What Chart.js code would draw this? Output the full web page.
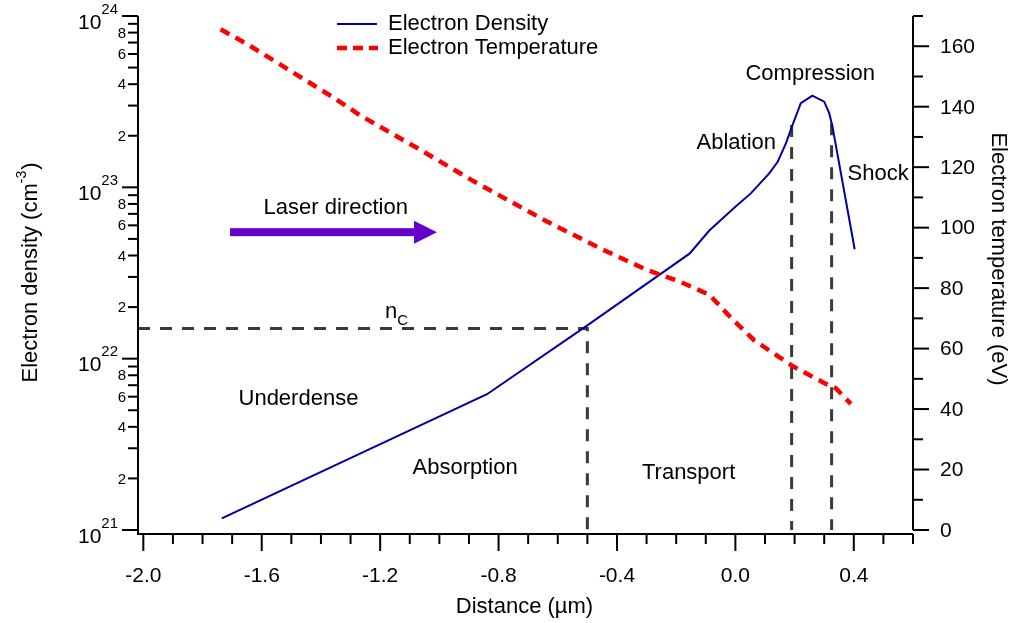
<!DOCTYPE html>
<html>
<head>
<meta charset="utf-8">
<title>Electron density and temperature profile</title>
<script src="https://cdn.jsdelivr.net/npm/chart.js@4.4.1/dist/chart.umd.min.js"></script>
<style>
  html, body { margin: 0; padding: 0; background: #fff; }
  canvas { display: block; }
</style>
</head>
<body>
<canvas id="profileChart" width="1022" height="623"></canvas>
<script>
'use strict'

// blue curve: distance (um) and electron density (cm^-3)
let densityX = [-1.735, -0.839, -0.499, -0.155, -0.088, 0.0, 0.053, 0.115, 0.143, 0.171, 0.193, 0.221, 0.260, 0.300, 0.317, 0.328, 0.403];
let densityY = [1.17e21, 6.2e21, 1.57e22, 4.1e22, 5.6e22, 7.7e22, 9.25e22, 1.21e23, 1.41e23, 1.81e23, 2.31e23, 3.10e23, 3.43e23, 3.16e23, 2.71e23, 2.26e23, 4.35e22];

// red curve: distance (um) and electron temperature (eV)
let tempX = [-1.739, -1.649, -1.357, -1.267, -1.076, -0.885, -0.638, -0.447, -0.301, -0.189, -0.088, -0.014, 0.064, 0.148, 0.199, 0.300, 0.339, 0.390];
let tempY = [165.6, 160.7, 143.0, 137.1, 126.4, 115.4, 102.1, 92.7, 86.1, 82.2, 77.8, 70.1, 62.7, 57.2, 53.9, 48.6, 46.9, 41.7];

// critical density and the region boundaries
let criticalDensity = 1.5e22;
let criticalX = -0.5;
let boundaryX = [0.19, 0.325];
let boundaryTop = [2.31e23, 2.37e23];

// axis ticks
let xMajorTicks = [-2.0, -1.6, -1.2, -0.8, -0.4, 0.0, 0.4];
let xTickLabels = ['-2.0', '-1.6', '-1.2', '-0.8', '-0.4', '0.0', '0.4'];
let densityExponents = [21, 22, 23, 24];
let densityMinorLabels = [2, 4, 6, 8];
let tempTicks = [0, 20, 40, 60, 80, 100, 120, 140, 160];

// region names, x in um and y on the temperature axis (text baseline)
let regionNames = ['Laser direction', 'Underdense', 'Absorption', 'Transport', 'Ablation', 'Compression', 'Shock'];
let regionX = [-1.35, -1.476, -0.913, -0.158, 0.003, 0.253, 0.482];
let regionT = [104.5, 41.4, 18.5, 16.9, 125.9, 148.8, 115.7];

let xMin = -2.018;
let xMax = 0.6;

const FONT = "'Liberation Sans', Arial, sans-serif";

function pairs(xs, ys) {
    return xs.map((x, i) => ({ x: x, y: ys[i] }));
}

function drawLine(c, x1, y1, x2, y2) {
    c.beginPath();
    c.moveTo(x1, y1);
    c.lineTo(x2, y2);
    c.stroke();
}

// axes, ticks, labels and notes are drawn here from the chart scales
const axesPlugin = {
    id: 'profileAxes',
    afterDraw(chart) {
        let c = chart.ctx;
        let area = chart.chartArea;
        let xs = chart.scales.x;
        let yd = chart.scales.yDens;
        let yt = chart.scales.yTemp;
        let axisY = area.bottom + 4;

        c.save();
        c.strokeStyle = '#000';
        c.fillStyle = '#000';
        c.lineWidth = 2;

        drawLine(c, area.left, area.top, area.left, axisY + 1);
        drawLine(c, area.left, axisY, area.right, axisY);
        drawLine(c, area.right, area.top, area.right, area.bottom);

        // bottom axis
        for (let i = -20; i <= 6; i++) {
            let px = xs.getPixelForValue(i / 10);
            let major = Math.abs(i) % 4 === 0;
            drawLine(c, px, axisY, px, axisY + (major ? 17 : 10));
        }
        c.font = '21px ' + FONT;
        c.textAlign = 'center';
        c.textBaseline = 'alphabetic';
        xMajorTicks.forEach((v, i) => {
            c.fillText(xTickLabels[i], xs.getPixelForValue(v), 582);
        });
        c.font = '22px ' + FONT;
        c.fillText('Distance (\u00b5m)', (area.left + area.right) / 2 - 1, 613);

        // left log axis
        densityExponents.forEach(e => {
            let py = yd.getPixelForValue(Math.pow(10, e));
            drawLine(c, area.left - 16, py, area.left, py);
            c.textAlign = 'right';
            c.textBaseline = 'alphabetic';
            c.font = '15px ' + FONT;
            let sup = String(e);
            let supRight = area.left - 20;
            c.fillText(sup, supRight, py - 2.5);
            let w = c.measureText(sup).width;
            c.font = '21px ' + FONT;
            c.fillText('10', supRight - w, py + 12.5);
            if (e < 24) {
                for (let m = 2; m <= 9; m++) {
                    let pm = yd.getPixelForValue(m * Math.pow(10, e));
                    drawLine(c, area.left - 10, pm, area.left, pm);
                    if (densityMinorLabels.includes(m)) {
                        c.font = '15px ' + FONT;
                        c.textBaseline = 'middle';
                        c.fillText(String(m), area.left - 12, pm + 1);
                    }
                }
            }
        });

        // right temperature axis
        for (let v = 0; v <= 170; v += 10) {
            let py = yt.getPixelForValue(v);
            drawLine(c, area.right, py, area.right + (v % 20 === 0 ? 16 : 10), py);
        }
        c.font = '21px ' + FONT;
        c.textAlign = 'left';
        c.textBaseline = 'middle';
        tempTicks.forEach(v => {
            c.fillText(String(v), area.right + 27, yt.getPixelForValue(v) + 1);
        });

        // axis titles
        c.font = '22px ' + FONT;
        c.save();
        c.translate(998, (area.top + area.bottom) / 2 - 14);
        c.rotate(Math.PI / 2);
        c.textAlign = 'center';
        c.textBaseline = 'middle';
        c.fillText('Electron temperature (eV)', 0, 0);
        c.restore();

        c.save();
        c.translate(37, (area.top + area.bottom) / 2);
        c.rotate(-Math.PI / 2);
        c.textAlign = 'left';
        c.textBaseline = 'alphabetic';
        let t1 = 'Electron density (cm';
        c.font = '22px ' + FONT;
        let w1 = c.measureText(t1).width;
        c.font = '14px ' + FONT;
        let w2 = c.measureText('-3').width;
        c.font = '22px ' + FONT;
        let w3 = c.measureText(')').width;
        let start = -(w1 + w2 + w3) / 2;
        c.fillText(t1, start, 0);
        c.font = '14px ' + FONT;
        c.fillText('-3', start + w1, -11);
        c.font = '22px ' + FONT;
        c.fillText(')', start + w1 + w2 + 1, 0);
        c.restore();

        // region names
        c.font = '22px ' + FONT;
        c.textAlign = 'center';
        c.textBaseline = 'alphabetic';
        regionNames.forEach((name, i) => {
            c.fillText(name, xs.getPixelForValue(regionX[i]), yt.getPixelForValue(regionT[i]));
        });

        // n_C label over the critical density line
        let nx = xs.getPixelForValue(-1.142);
        let ny = yt.getPixelForValue(70.2);
        c.textAlign = 'right';
        c.fillText('n', nx, ny);
        c.textAlign = 'left';
        c.font = '15px ' + FONT;
        c.fillText('C', nx, ny + 7);

        // laser arrow
        let ax1 = xs.getPixelForValue(-1.707);
        let ax2 = xs.getPixelForValue(-1.008);
        let ay = yt.getPixelForValue(98.5);
        let head = 23;
        c.fillStyle = '#6600cc';
        c.fillRect(ax1, ay - 4, ax2 - head - ax1, 8);
        c.beginPath();
        c.moveTo(ax2 - head, ay - 11.5);
        c.lineTo(ax2, ay);
        c.lineTo(ax2 - head, ay + 11.5);
        c.closePath();
        c.fill();

        // legend
        let lx = 337;
        let row1 = 24;
        let row2 = 48;
        c.lineWidth = 2;
        c.strokeStyle = '#00009c';
        drawLine(c, lx, row1, lx + 40, row1);
        c.lineWidth = 4.5;
        c.strokeStyle = '#ff0000';
        c.setLineDash([10, 6]);
        drawLine(c, lx, row2, lx + 41, row2);
        c.setLineDash([]);
        c.fillStyle = '#000';
        c.font = '22px ' + FONT;
        c.textAlign = 'left';
        c.textBaseline = 'middle';
        c.fillText('Electron Density', lx + 51, row1);
        c.fillText('Electron Temperature', lx + 51, row2);

        c.restore();
    }
};

let ctx = document.getElementById('profileChart').getContext('2d');
let chart = new Chart(ctx, {
    type: 'line',
    data: {
        datasets: [{
            label: 'Electron Temperature',
            data: pairs(tempX, tempY),
            yAxisID: 'yTemp',
            borderColor: '#ff0000',
            borderWidth: 4.5,
            borderDash: [10, 7],
            pointRadius: 0,
            order: 0
        }, {
            label: 'Electron Density',
            data: pairs(densityX, densityY),
            yAxisID: 'yDens',
            borderColor: '#00009c',
            borderWidth: 2,
            pointRadius: 0,
            order: 1
        }, {
            label: 'Critical density',
            data: [{ x: xMin, y: criticalDensity }, { x: criticalX, y: criticalDensity }, { x: criticalX, y: 1e21 }],
            yAxisID: 'yDens',
            borderColor: '#3a3a3a',
            borderWidth: 3,
            borderDash: [12, 10],
            pointRadius: 0,
            order: 2
        }, {
            label: 'Ablation front',
            data: [{ x: boundaryX[0], y: boundaryTop[0] }, { x: boundaryX[0], y: 1e21 }],
            yAxisID: 'yDens',
            borderColor: '#3a3a3a',
            borderWidth: 3,
            borderDash: [12, 10],
            pointRadius: 0,
            order: 2
        }, {
            label: 'Shock front',
            data: [{ x: boundaryX[1], y: boundaryTop[1] }, { x: boundaryX[1], y: 1e21 }],
            yAxisID: 'yDens',
            borderColor: '#3a3a3a',
            borderWidth: 3,
            borderDash: [12, 10],
            pointRadius: 0,
            order: 2
        }]
    },
    options: {
        responsive: false,
        animation: false,
        devicePixelRatio: 1,
        layout: { padding: { left: 138, right: 109, top: 16, bottom: 93 } },
        elements: { line: { tension: 0, fill: false } },
        plugins: { legend: { display: false }, tooltip: { enabled: false } },
        scales: {
            x: { type: 'linear', min: xMin, max: xMax, display: false },
            yDens: { type: 'logarithmic', position: 'left', min: 1e21, max: 1e24, display: false },
            yTemp: { type: 'linear', position: 'right', min: 0, max: 170, display: false }
        }
    },
    plugins: [axesPlugin]
});
</script>
</body>
</html>
